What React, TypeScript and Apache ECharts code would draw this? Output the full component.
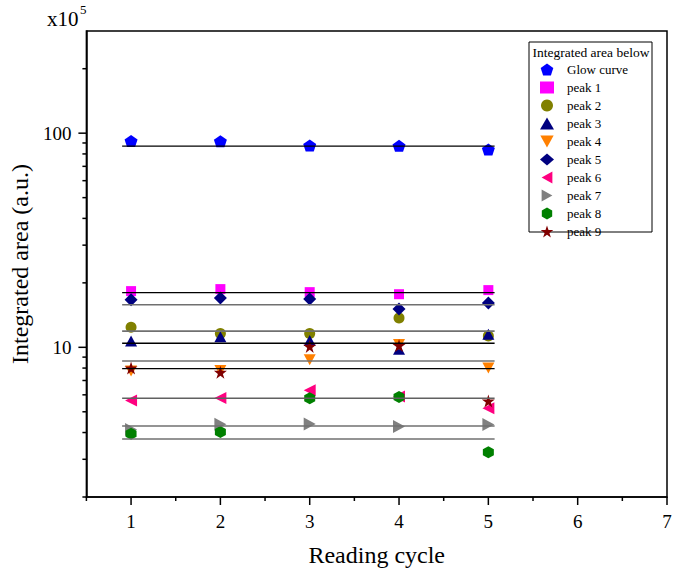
import React, { useEffect, useRef } from 'react';
import * as echarts from 'echarts';

// ---------- data ----------
const cycles = [1, 2, 3, 4, 5];
const seriesNames = ['Glow curve', 'peak 1', 'peak 2', 'peak 3', 'peak 4', 'peak 5', 'peak 6', 'peak 7', 'peak 8', 'peak 9'];
const glowCurve = [92.0, 91.8, 87.6, 87.3, 83.9];
const peak1 = [18.3, 18.7, 18.1, 17.7, 18.5];
const peak2 = [12.4, 11.6, 11.6, 13.7, 11.3];
const peak3 = [10.7, 11.2, 10.75, 9.8, 11.5];
const peak4 = [7.75, 7.8, 8.76, 10.3, 8.0];
const peak5 = [16.7, 17.0, 16.8, 15.1, 16.1];
const peak6 = [5.65, 5.8, 6.3, 5.9, 5.2];
const peak7 = [4.13, 4.37, 4.39, 4.27, 4.36];
const peak8 = [3.95, 4.02, 5.78, 5.86, 3.24];
const peak9 = [8.0, 7.64, 10.1, 10.2, 5.61];
const allValues = [glowCurve, peak1, peak2, peak3, peak4, peak5, peak6, peak7, peak8, peak9];
// horizontal fit levels for each series
const fitLevels = [87.0, 18.0, 11.9, 10.45, 8.63, 15.8, 5.78, 4.29, 3.73, 7.95];
const fitRange = [0.9, 5.07];
const xTickLabels = [1, 2, 3, 4, 5, 6, 7];
const xMinorTicks = [0.5, 1.5, 2.5, 3.5, 4.5, 5.5, 6.5];
const yTickLabels = [10, 100];
const yMinorTicks = [2, 3, 4, 5, 6, 7, 8, 9, 20, 30, 40, 50, 60, 70, 80, 90, 200];

// ---------- styles ----------
const FONT = 'Liberation Serif';
const colors = ['#0000FF', '#FF00FF', '#808000', '#000080', '#FF8000', '#000080', '#FF0080', '#808080', '#008000', '#800000'];
const symbols = [
  'path://M0,-1L0.951,-0.309L0.588,0.809L-0.588,0.809L-0.951,-0.309Z',
  'rect',
  'circle',
  'triangle',
  'path://M0,0L2,0L1,1.8Z',
  'diamond',
  'path://M0,1L1.8,0L1.8,2Z',
  'path://M0,0L1.8,1L0,2Z',
  'path://M0,-1L0.866,-0.5L0.866,0.5L0,1L-0.866,0.5L-0.866,-0.5Z',
  'path://M0,-1L0.2245,-0.309L0.951,-0.309L0.363,0.118L0.588,0.809L0,0.382L-0.588,0.809L-0.363,0.118L-0.951,-0.309L-0.2245,-0.309Z',
];
const sizes: any[] = [[13, 12], 10, 11, [12, 11], [12, 11], [13, 13], [12, 12], [12, 13], [11, 12], [13, 13]];
const fitColors = ['#000', '#000', '#707070', '#000', '#707070', '#707070', '#606060', '#707070', '#707070', '#000'];

export default function App() {
  const ref = useRef<HTMLDivElement>(null);
  useEffect(() => {
    document.body.style.margin = '0';
    const chart = echarts.init(ref.current!, null, { renderer: 'svg' });
    const scatter = seriesNames.map((name, i) => ({
      name,
      type: 'scatter',
      data: cycles.map((c, j) => [c, allValues[i][j]]),
      symbol: symbols[i],
      symbolSize: sizes[i],
      itemStyle: { color: colors[i], opacity: 1 },
      z: 2,
    }));
    const fits = fitLevels.map((lv, i) => ({
      name: 'fit ' + i,
      type: 'line',
      data: [[fitRange[0], lv], [fitRange[1], lv]],
      showSymbol: false,
      symbol: 'none',
      lineStyle: { color: fitColors[i], width: fitColors[i] === '#000' ? 1.3 : 1.6 },
      z: 3,
      silent: true,
    }));
    chart.setOption({
      animation: false,
      grid: { left: 86, right: 16, top: 31, bottom: 76, show: true, borderColor: '#000', borderWidth: 1.5 },
      xAxis: {
        type: 'value', min: 0.5, max: 7, interval: 0.5,
        name: 'Reading cycle', nameLocation: 'middle', nameGap: 46,
        nameTextStyle: { fontFamily: FONT, fontSize: 24, color: '#000' },
        axisLine: { show: true, lineStyle: { color: '#000', width: 1.5 } },
        axisTick: { show: false }, splitLine: { show: false },
        axisLabel: {
          margin: 15, fontFamily: FONT, fontSize: 19, color: '#000',
          formatter: (v: number) => (xTickLabels.indexOf(v) >= 0 ? String(v) : ''),
        },
      },
      yAxis: {
        type: 'log', logBase: 10, min: 2, max: 300,
        name: 'Integrated area (a.u.)', nameLocation: 'middle', nameGap: 46,
        nameTextStyle: { fontFamily: FONT, fontSize: 24, color: '#000' },
        axisLine: { show: true, lineStyle: { color: '#000', width: 1.5 } },
        axisTick: { show: false }, splitLine: { show: false }, minorTick: { show: false },
        axisLabel: {
          margin: 15, fontFamily: FONT, fontSize: 19, color: '#000',
          formatter: (v: number) => {
            const m = yTickLabels.find((t) => Math.abs(t - v) < 1e-6);
            return m !== undefined ? String(m) : '';
          },
        },
      },
      legend: {
        data: seriesNames, orient: 'vertical', left: 540, top: 63, padding: 0,
        itemWidth: 14, itemHeight: 12, itemGap: 5,
        textStyle: { fontFamily: FONT, fontSize: 13, color: '#000', padding: [0, 0, 0, 8] },
      },
      series: [...scatter, ...fits],
    });

    const g: any[] = [];
    const x0 = chart.convertToPixel({ xAxisIndex: 0 } as any, 0.5) as unknown as number;
    const y0 = chart.convertToPixel({ yAxisIndex: 0 } as any, 2) as unknown as number;
    const tick = (x1: number, y1: number, x2: number, y2: number) =>
      g.push({ type: 'line', shape: { x1, y1, x2, y2 }, style: { stroke: '#000', lineWidth: 1.5 }, silent: true });
    xTickLabels.forEach((v) => {
      const x = chart.convertToPixel({ xAxisIndex: 0 } as any, v) as unknown as number;
      tick(x, y0, x, y0 + 8);
    });
    xMinorTicks.forEach((v) => {
      const x = chart.convertToPixel({ xAxisIndex: 0 } as any, v) as unknown as number;
      tick(x, y0, x, y0 + 4);
    });
    yTickLabels.forEach((v) => {
      const y = chart.convertToPixel({ yAxisIndex: 0 } as any, v) as unknown as number;
      tick(x0, y, x0 - 8, y);
    });
    yMinorTicks.forEach((v) => {
      const y = chart.convertToPixel({ yAxisIndex: 0 } as any, v) as unknown as number;
      tick(x0, y, x0 - 4, y);
    });
    g.push({ type: 'text', x: 47, y: 8, style: { text: 'x10', fontFamily: FONT, fontSize: 21, fill: '#000' } });
    g.push({ type: 'text', x: 80, y: 3, style: { text: '5', fontFamily: FONT, fontSize: 13, fill: '#000' } });
    g.push({ type: 'rect', shape: { x: 529, y: 42, width: 123, height: 190 }, style: { stroke: '#000', lineWidth: 1, fill: 'none' }, silent: true });
    g.push({
      type: 'text', x: 591, y: 52,
      style: { text: 'Integrated area below', fontFamily: FONT, fontSize: 13.5, fill: '#000', textAlign: 'center', textVerticalAlign: 'middle' },
    });
    chart.setOption({ graphic: g });
    return () => chart.dispose();
  }, []);
  return <div ref={ref} style={{ width: 683, height: 573 }} />;
}
